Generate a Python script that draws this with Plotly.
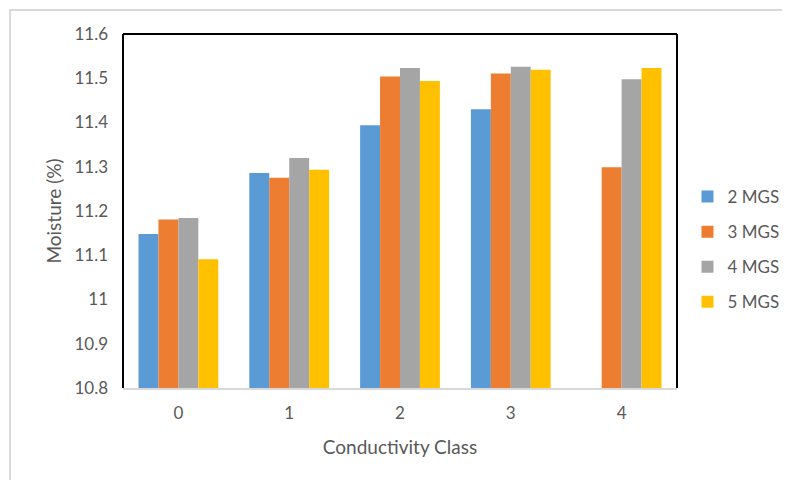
import plotly.graph_objects as go

categories = ["0", "1", "2", "3", "4"]
series_names = ["2 MGS", "3 MGS", "4 MGS", "5 MGS"]
mgs2 = [11.148, 11.286, 11.394, 11.430, None]
mgs3 = [11.181, 11.275, 11.504, 11.511, 11.299]
mgs4 = [11.184, 11.320, 11.523, 11.526, 11.498]
mgs5 = [11.091, 11.293, 11.494, 11.519, 11.523]
y_ticks = [10.8, 10.9, 11.0, 11.1, 11.2, 11.3, 11.4, 11.5, 11.6]
y_tick_labels = ["10.8", "10.9", "11", "11.1", "11.2", "11.3", "11.4", "11.5", "11.6"]

colors = ["#5B9BD5", "#ED7D31", "#A5A5A5", "#FFC000"]
FONT = "Lato, Open Sans, sans-serif"
TXT = "#595959"

fig = go.Figure()
for name, vals, col in zip(series_names, [mgs2, mgs3, mgs4, mgs5], colors):
    fig.add_trace(go.Bar(x=categories, y=vals, name=name, marker_color=col,
                         marker_line_width=0, legendgroup=name))

# page body has an 8px margin, so the figure is 8px smaller and coordinates shifted
OFF = 8
W, H = 790 - OFF, 480 - OFF
L, R, T, B = 123 - OFF, 677.5 - OFF, 34 - OFF, 388 - OFF
pw, ph = R - L, B - T

def px(x):
    return (x - OFF - L) / pw

def py(y):
    return (B - (y - OFF)) / ph

shapes = [
    dict(type="rect", xref="paper", yref="paper", x0=px(10), x1=px(805), y0=py(495), y1=py(10),
         line=dict(color="#D9D9D9", width=2), fillcolor="rgba(0,0,0,0)", layer="below"),
    dict(type="line", xref="paper", yref="paper", x0=0, x1=0, y0=0, y1=1, line=dict(color="black", width=2)),
    dict(type="line", xref="paper", yref="paper", x0=0, x1=1, y0=1, y1=1, line=dict(color="black", width=2)),
    dict(type="line", xref="paper", yref="paper", x0=1, x1=1, y0=0, y1=1, line=dict(color="black", width=2)),
]

fig.update_layout(
    width=W, height=H,
    margin=dict(l=L, r=W - R, t=T, b=H - B, pad=0, autoexpand=False),
    paper_bgcolor="white", plot_bgcolor="white",
    barmode="group", bargap=0.28, bargroupgap=0,
    font=dict(family=FONT, size=17, color=TXT),
    xaxis=dict(title=dict(text="Conductivity Class", font=dict(size=19, color=TXT), standoff=18),
               showline=True, linecolor="#D9D9D9", linewidth=2, ticks="", showgrid=False,
               tickfont=dict(size=17, color=TXT), zeroline=False, ticklabelstandoff=9,
               automargin=False),
    yaxis=dict(title=dict(text="Moisture (%)", font=dict(size=19, color=TXT), standoff=7),
               range=[10.8, 11.6], tickvals=y_ticks, ticktext=y_tick_labels,
               showgrid=False, zeroline=False, showline=False, ticks="",
               tickfont=dict(size=17, color=TXT), ticklabelstandoff=14, automargin=False),
    legend=dict(x=px(688), y=py(179), xanchor="left", yanchor="top",
                traceorder="grouped", tracegroupgap=10,
                font=dict(size=17, color=TXT), itemwidth=30,
                bgcolor="rgba(0,0,0,0)"),
    shapes=shapes,
)

fig.write_html("out.html")
